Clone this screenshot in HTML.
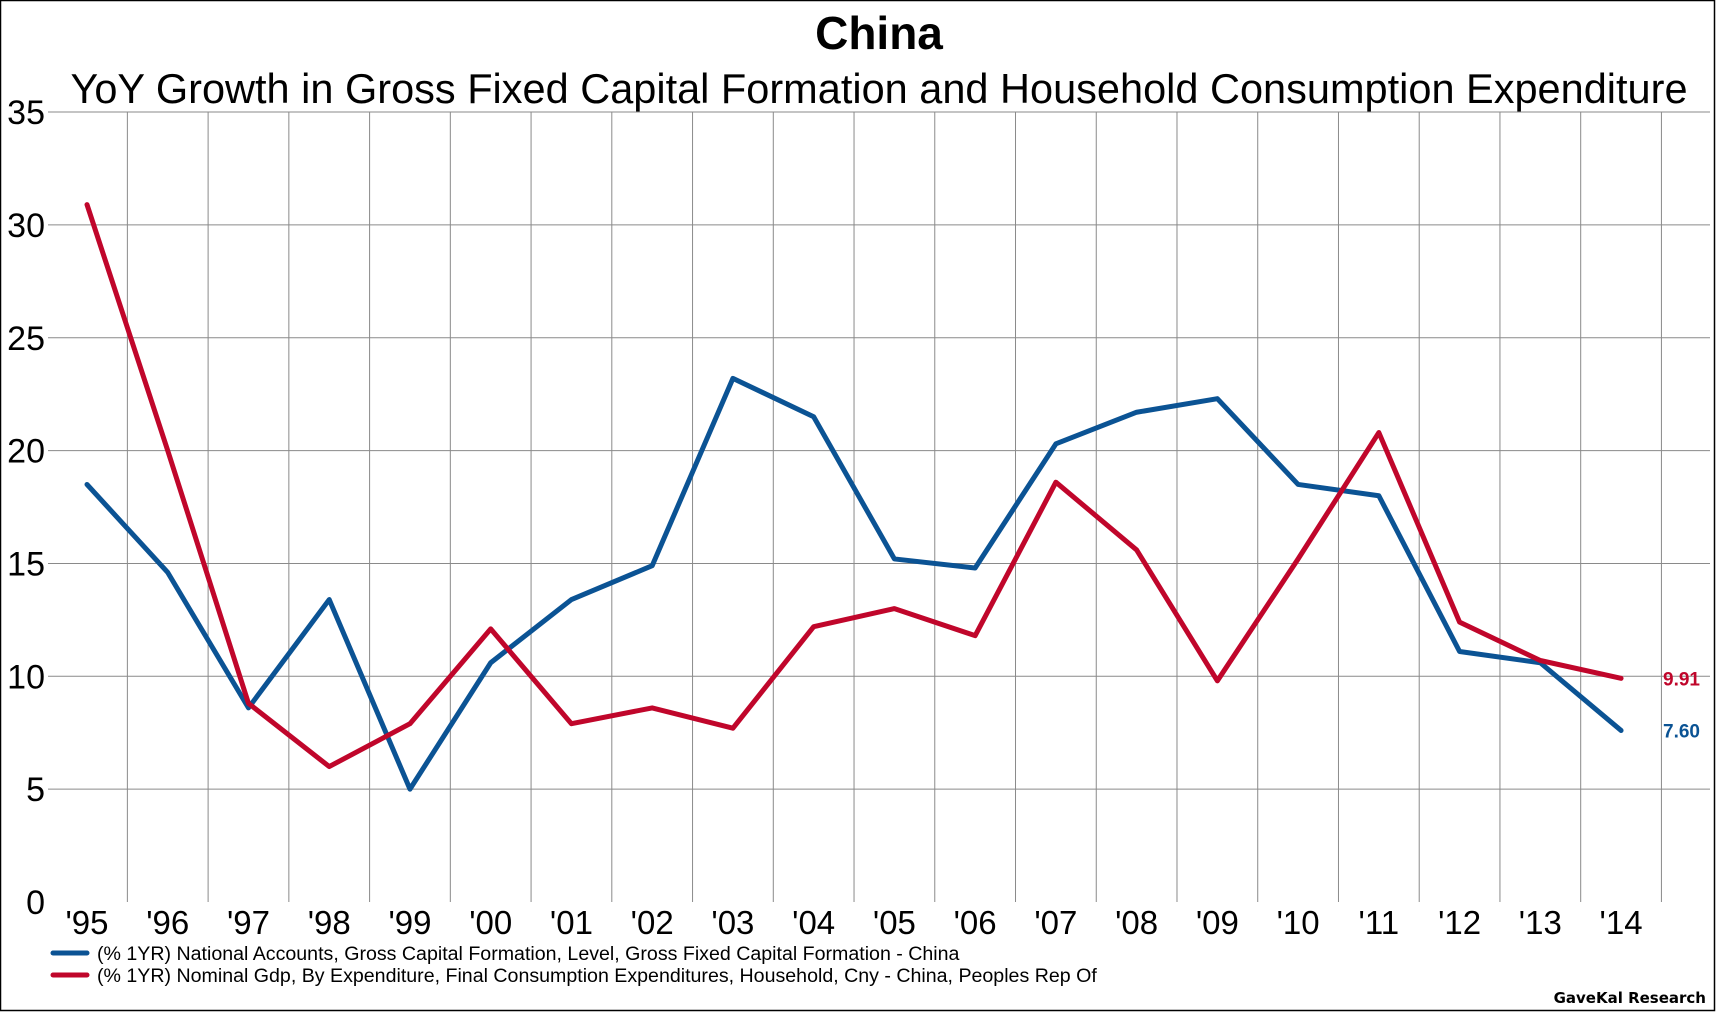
<!DOCTYPE html>
<html><head><meta charset="utf-8"><style>
body{margin:0;background:#fff;}
svg{display:block;font-family:"Liberation Sans",sans-serif;}
</style></head><body>
<svg id="chart" width="1716" height="1012">
<rect x="0.5" y="0.5" width="1714" height="1010" fill="#fff" stroke="#000" stroke-width="1.5"/>
<text x="879" y="49" text-anchor="middle" font-size="46" font-weight="bold">China</text>
<text x="879" y="103" text-anchor="middle" font-size="41.5">YoY Growth in Gross Fixed Capital Formation and Household Consumption Expenditure</text>
<g id="grid"></g><g id="series"></g><g id="labels"></g>
<g>
<line x1="53" y1="953" x2="87" y2="953" stroke="#0b5394" stroke-width="5" stroke-linecap="round"/>
<text x="97" y="960" font-size="19.6">(% 1YR) National Accounts, Gross Capital Formation, Level, Gross Fixed Capital Formation - China</text>
<line x1="53" y1="975" x2="87" y2="975" stroke="#c0062b" stroke-width="5" stroke-linecap="round"/>
<text x="97" y="982" font-size="19.6">(% 1YR) Nominal Gdp, By Expenditure, Final Consumption Expenditures, Household, Cny - China, Peoples Rep Of</text>
</g>
<text x="1706" y="1003" text-anchor="end" font-size="15" font-weight="bold" font-family="DejaVu Sans, sans-serif">GaveKal Research</text>
</svg>
<script>
const categories=["'95","'96","'97","'98","'99","'00","'01","'02","'03","'04","'05","'06","'07","'08","'09","'10","'11","'12","'13","'14"];
const gfcf=[18.5,14.6,8.6,13.4,5.0,10.6,13.4,14.9,23.2,21.5,15.2,14.8,20.3,21.7,22.3,18.5,18.0,11.1,10.6,7.6];
const consumption=[30.9,20.0,8.8,6.0,7.9,12.1,7.9,8.6,7.7,12.2,13.0,11.8,18.6,15.6,9.8,15.2,20.8,12.4,10.7,9.91];
const yTicks=[0,5,10,15,20,25,30,35];
const NS="http://www.w3.org/2000/svg";
const x0=87,dx=80.74,yBase=902,yScale=22.57;
const X=i=>x0+dx*i, Y=v=>yBase-v*yScale;
function mk(tag,attrs,parent){const e=document.createElementNS(NS,tag);for(const k in attrs)e.setAttribute(k,attrs[k]);parent.appendChild(e);return e;}
const grid=document.getElementById('grid'),series=document.getElementById('series'),labels=document.getElementById('labels');
yTicks.forEach(v=>{
  if(v>0){const l=mk('line',{x1:48,x2:1710,y1:Y(v),y2:Y(v),stroke:'#8a8a8a','stroke-width':1},grid);
  
  }
  const t=mk('text',{x:45,y:Y(v)+12,'text-anchor':'end','font-size':34},labels);t.textContent=v;
  
  
});
categories.forEach((c,i)=>{
  const l=mk('line',{x1:X(i)+dx/2,x2:X(i)+dx/2,y1:Y(35),y2:yBase,stroke:'#8a8a8a','stroke-width':1},grid);
  
  
  const t=mk('text',{x:X(i),y:934,'text-anchor':'middle','font-size':33},labels);t.textContent=c;
  
  
});
function line(data,color,name){
  const p=mk('polyline',{points:data.map((v,i)=>X(i)+','+Y(v)).join(' '),fill:'none',stroke:color,'stroke-width':5,'stroke-linejoin':'round','stroke-linecap':'round'},series);
  
  
}
line(gfcf,'#0b5394','gfcf-line');
line(consumption,'#c0062b','consumption-line');
const n=categories.length-1;
const t1=mk('text',{x:1663,y:Y(consumption[n])+7,'font-size':19,'font-weight':'bold',fill:'#c0062b'},labels);t1.textContent=consumption[n].toFixed(2);


const t2=mk('text',{x:1663,y:Y(gfcf[n])+7,'font-size':19,'font-weight':'bold',fill:'#0b5394'},labels);t2.textContent=gfcf[n].toFixed(2);


</script>
</body></html>
